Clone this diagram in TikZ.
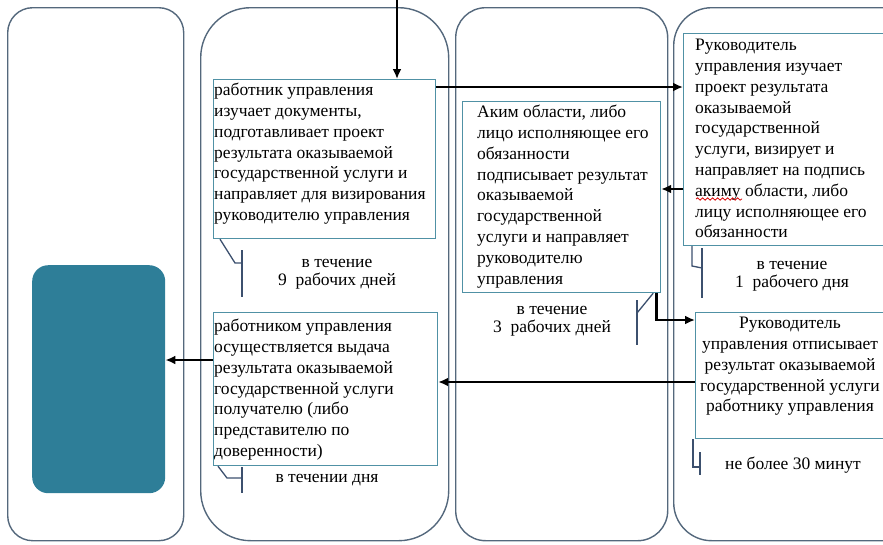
\documentclass[tikz,border=0pt]{standalone}
\usepackage{fontspec}
\setmainfont{Liberation Serif}
\usetikzlibrary{arrows.meta,decorations.pathmorphing}
\definecolor{laneC}{RGB}{84,104,124}
\definecolor{boxC}{RGB}{80,145,165}
\definecolor{tealF}{RGB}{46,126,152}
\definecolor{callC}{RGB}{60,80,110}
\begin{document}
\begin{tikzpicture}[x=1pt,y=-1pt,
  lane/.style={draw=laneC, line width=1.4pt, anchor=north west, inner sep=0pt},
  tbox/.style={draw=boxC, line width=1.2pt, anchor=north west, inner sep=0pt, fill=white},
  txt/.style={font=\fontsize{17.5}{20.8}\selectfont, inner sep=0pt, align=left, anchor=north west},
  ctxt/.style={font=\fontsize{17.5}{18.5}\selectfont, inner sep=0pt, align=center},
  arr/.style={line width=2.7pt, -{Latex[length=10pt,width=9pt]}},
  call/.style={draw=callC, line width=1.3pt}]
\useasboundingbox (0,0) rectangle (883,544);
\clip (0,0) rectangle (883,544);
% lanes
\node[lane, rounded corners=25pt, minimum width=176pt, minimum height=533pt] (L1) at (7,7) {};
\node[lane, rounded corners=50pt, minimum width=248pt, minimum height=533pt] (L2) at (200,7) {};
\node[lane, rounded corners=30pt, minimum width=212pt, minimum height=533pt] (L3) at (455,7) {};
\node[lane, rounded corners=38pt, minimum width=250pt, minimum height=533pt] (L4) at (673,7) {};
% teal box
\node[fill=tealF, rounded corners=16pt, minimum width=133pt, minimum height=228pt, anchor=north west, inner sep=0pt] (T) at (32,265) {};
% boxes
\node[tbox, minimum width=222pt, minimum height=159pt] (A) at (213,79) {};
\node[tbox, minimum width=198pt, minimum height=191pt] (B) at (462,101) {};
\node[tbox, minimum width=220pt, minimum height=212pt] (C) at (683,33) {};
\node[tbox, minimum width=224pt, minimum height=153pt] (D) at (213,312) {};
\node[tbox, minimum width=210pt, minimum height=126pt] (E) at (695,312) {};
% texts
\node[txt] (At) at (214,83) {работник управления\\изучает документы,\\подготавливает проект\\результата оказываемой\\государственной услуги и\\направляет для визирования\\руководителю управления};
\node[txt] (Bt) at (477,105) {Аким области, либо\\лицо исполняющее его\\обязанности\\подписывает результат\\оказываемой\\государственной\\услуги и направляет\\руководителю\\управления};
\node[txt] (Ct) at (695,39) {Руководитель\\управления изучает\\проект результата\\оказываемой\\государственной\\услуги, визирует и\\направляет на подпись\\акиму области, либо\\лицу исполняющее его\\обязанности};
\node[txt] (Dt) at (214,319) {работником управления\\осуществляется выдача\\результата оказываемой\\государственной услуги\\получателю (либо\\представителю по\\доверенности)};
\node[txt, align=center, anchor=north] (Et) at (790,317) {Руководитель\\управления отписывает\\результат оказываемой\\государственной услуги\\работнику управления};
\draw[red!85!black, line width=0.8pt, decorate, decoration={snake, amplitude=1.2pt, segment length=5pt}] (696,199) -- (742,199);
% callout texts
\node[ctxt] (Ac) at (337,274) {в течение\\9~~рабочих дней};
\node[ctxt] (Bc) at (552,321) {в течение\\3~~рабочих дней};
\node[ctxt] (Cc) at (792,276) {в течение\\1~~рабочего дня};
\node[ctxt] (Dc) at (327,480) {в течении дня};
\node[ctxt] (Ec) at (793,465) {не более 30 минут};
% callout lines
\draw[call] ([xshift=7pt]A.south west) -- (235,263) -- (242,263);
\draw[call] (242,250) -- (242,297);
\draw[call] ([xshift=-8pt]B.south east) -- (637,313);
\draw[call] (637,300) -- (637,345);
\draw[call] ([xshift=9pt]C.south west) -- (692,266) -- (702,268);
\draw[call] (702,248) -- (702,298);
\draw[call] ([xshift=5pt]D.south west) -- (227,478) -- (242,478);
\draw[call] (242,467) -- (242,493);
\draw[call] ([xshift=-2pt]E.south west) -- (693,467) -- (700,467);
\draw[call] (700,452) -- (700,475);
% arrows
\coordinate (top) at (397,0);
\coordinate (a1) at ([yshift=-8pt]A.north east);
\coordinate (c1) at ([yshift=-156pt]C.north west);
\coordinate (b1) at ([xshift=-5pt]B.south east);
\coordinate (e1) at ([yshift=-8pt]E.north west);
\coordinate (e2) at ([yshift=-70pt]E.north west);
\coordinate (d1) at ([yshift=-48pt]D.north west);
\draw[arr] (top) -- (top |- A.north);
\draw[arr] (a1) -- (a1 -| C.west);
\draw[arr] (c1) -- (c1 -| B.east);
\draw[arr] (b1) |- (e1);
\draw[arr] (e2) -- (e2 -| D.east);
\draw[arr] (d1) -- (d1 -| T.east);
\end{tikzpicture}
\end{document}
